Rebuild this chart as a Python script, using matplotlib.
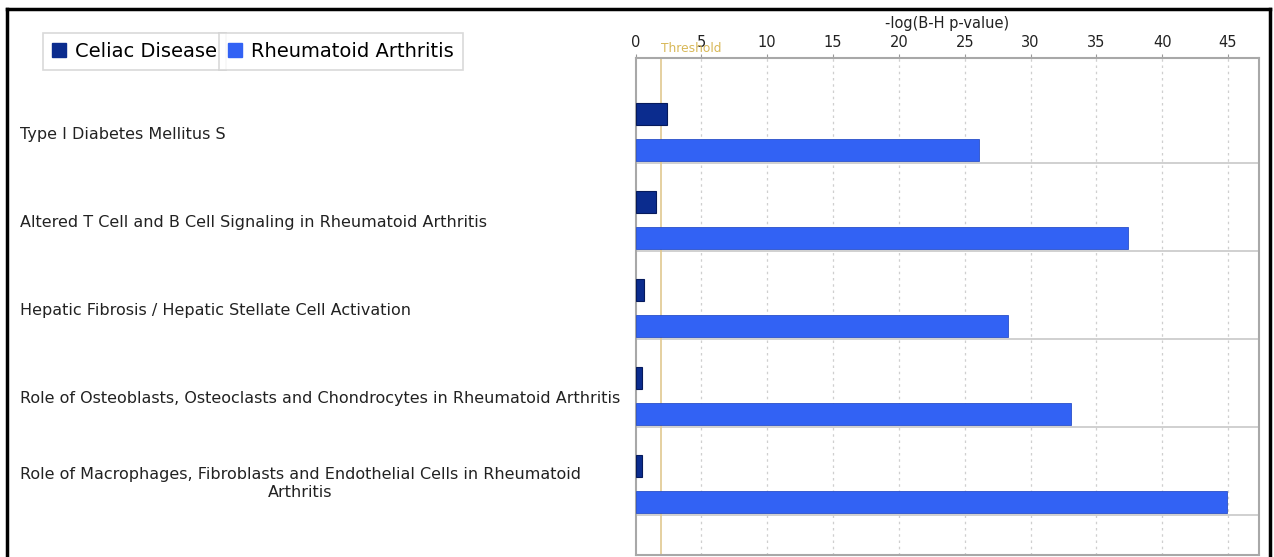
import numpy as np
import matplotlib
matplotlib.use("Agg")
from matplotlib import pyplot as plt
from matplotlib.patches import Patch
from matplotlib.lines import Line2D
import matplotlib.transforms as mtransforms

# data
pathways = ["Type I Diabetes Mellitus S",
            "Altered T Cell and B Cell Signaling in Rheumatoid Arthritis",
            "Hepatic Fibrosis / Hepatic Stellate Cell Activation",
            "Role of Osteoblasts, Osteoclasts and Chondrocytes in Rheumatoid Arthritis",
            "Role of Macrophages, Fibroblasts and Endothelial Cells in Rheumatoid\nArthritis"]
celiac = [2.4, 1.55, 0.65, 0.5, 0.5]
rheumatoid = [26.1, 37.4, 28.3, 33.1, 44.9]
xticks = [0, 5, 10, 15, 20, 25, 30, 35, 40, 45]
threshold = 1.95

dark = "#0b2c8e"
blue = "#3262f4"
W, H = 1274, 557

fig = plt.figure(figsize=(W/100, H/100), dpi=100)
ax = fig.add_axes([635.5/W, 1-555/H, (1259-635.5)/W, (555-58)/H])

n = len(pathways)
y = np.arange(n)
ax.barh(y + 0.443, celiac, height=0.25, color=dark, edgecolor="#061a5c", linewidth=0.8, zorder=3)
ax.barh(y + 0.847, rheumatoid, height=0.25, color=blue, edgecolor="#2a50c8", linewidth=0.6, zorder=3)

ax.set_xlim(0, 47.35)
ax.set_ylim(n + 40/88, -17/88)

# group separators
for k in range(1, n+1):
    ax.axhline(k, color="#c8c8c8", linewidth=1.2, zorder=1)

# dotted grid
for t in xticks[1:]:
    ax.axvline(t, color="#cfcfcf", linewidth=0.9, linestyle=(0, (2, 3)), zorder=1)

ax.axvline(threshold, color="#e0c890", linewidth=1.2, zorder=2)
ax.text(threshold, 1 + 10/497, "Threshold", color="#d8b858", fontsize=8.8,
        transform=mtransforms.blended_transform_factory(ax.transData, ax.transAxes),
        ha="left", va="center", clip_on=False)

ax.xaxis.tick_top()
ax.xaxis.set_label_position("top")
ax.set_xticks(xticks)
ax.set_xticklabels([str(t) for t in xticks], fontsize=10.5, color="#222222")
ax.tick_params(axis="x", length=3, color="#999999", pad=3)
ax.set_yticks([])
ax.set_xlabel("-log(B-H p-value)", fontsize=10.5, color="#222222", labelpad=5)
for s in ax.spines.values():
    s.set_color("#a8a8a8")
    s.set_linewidth(1.5)

# pathway labels, left aligned in figure coords
tr = mtransforms.blended_transform_factory(fig.transFigure, ax.transData)
for i, name in enumerate(pathways):
    ax.text(20/W, i + (0.64 if "\n" in name else 0.68), name, transform=tr, fontsize=11.5,
            color="#222222", ha="left", va="center", multialignment="center",
            linespacing=1.3, clip_on=False)

# legend: two separate boxed entries
h1 = Patch(facecolor=dark, edgecolor=dark)
h2 = Patch(facecolor=blue, edgecolor=blue)
kw = dict(fontsize=14, frameon=True, fancybox=False, handlelength=0.75, handleheight=0.75,
          handletextpad=0.45, borderpad=0.45, borderaxespad=0, edgecolor="#d0d0d0")
leg1 = fig.legend([h1], ["Celiac Disease"], loc="upper left",
                  bbox_to_anchor=(43/W, 1-33/H), **kw)
leg1.get_frame().set_linewidth(1.2)
leg2 = fig.legend([h2], ["Rheumatoid Arthritis"], loc="upper left",
                  bbox_to_anchor=(219/W, 1-33/H), **kw)
leg2.get_frame().set_linewidth(1.2)

# black outer frame (bottom edge off canvas)
fx0, fx1, fy0 = 7/W, 1270/W, 1-9/H
for xs, ys in [([fx0, fx0], [fy0, -0.05]), ([fx1, fx1], [fy0, -0.05]), ([fx0, fx1], [fy0, fy0])]:
    fig.add_artist(Line2D(xs, ys, transform=fig.transFigure, color="black", linewidth=2.5))

fig.savefig("out.png", dpi=100)
